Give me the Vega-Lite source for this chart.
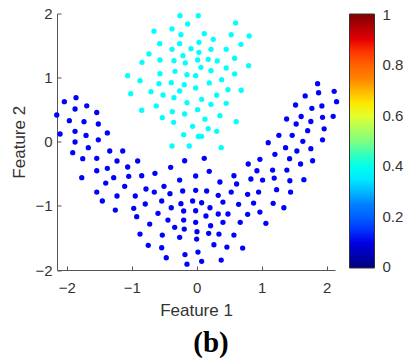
{
  "$schema": "https://vega.github.io/schema/vega-lite/v6.json",
  "autosize": "none",
  "width": 278,
  "height": 256.5,
  "padding": {"left": 57, "top": 13.5, "right": 73, "bottom": 92},
  "background": "white",
  "title": {"text": "(b)", "orient": "bottom", "anchor": "middle", "frame": "group", "dx": 15, "offset": 11, "font": "Liberation Serif", "fontSize": 29, "fontWeight": "bold", "color": "#000000"},
  "config": {"view": {"stroke": null}},
  "datasets": {
    "pts": [
      {"x":-0.257,"y":1.966,"v":0.375},{"x":0.025,"y":1.966,"v":0.375},{"x":-0.138,"y":1.837,"v":0.375},{"x":-0.657,"y":1.723,"v":0.375},
      {"x":-0.380,"y":1.759,"v":0.375},{"x":-0.242,"y":1.670,"v":0.375},{"x":-0.569,"y":1.530,"v":0.375},{"x":-0.262,"y":1.530,"v":0.375},
      {"x":0.035,"y":1.551,"v":0.375},{"x":-0.380,"y":1.442,"v":0.375},{"x":-0.088,"y":1.452,"v":0.375},{"x":-0.734,"y":1.369,"v":0.375},
      {"x":-0.211,"y":1.342,"v":0.375},{"x":0.035,"y":1.395,"v":0.375},{"x":-0.842,"y":1.239,"v":0.375},{"x":-0.565,"y":1.275,"v":0.375},
      {"x":-0.349,"y":1.264,"v":0.375},{"x":-0.175,"y":1.229,"v":0.375},{"x":0.015,"y":1.275,"v":0.375},{"x":-1.062,"y":1.030,"v":0.375},
      {"x":-0.872,"y":0.952,"v":0.375},{"x":-0.565,"y":1.062,"v":0.375},{"x":-0.334,"y":1.099,"v":0.375},{"x":-0.149,"y":1.046,"v":0.375},
      {"x":-0.015,"y":1.030,"v":0.375},{"x":-0.580,"y":0.906,"v":0.375},{"x":-0.391,"y":0.921,"v":0.375},{"x":-0.191,"y":0.890,"v":0.375},
      {"x":-1.015,"y":0.750,"v":0.375},{"x":-0.703,"y":0.781,"v":0.375},{"x":-0.518,"y":0.729,"v":0.375},{"x":-0.262,"y":0.792,"v":0.375},
      {"x":-0.015,"y":0.839,"v":0.375},{"x":-0.349,"y":0.687,"v":0.375},{"x":-0.149,"y":0.609,"v":0.375},{"x":-0.622,"y":0.558,"v":0.375},
      {"x":-0.846,"y":0.491,"v":0.375},{"x":-0.375,"y":0.469,"v":0.375},{"x":-0.185,"y":0.433,"v":0.375},{"x":0.015,"y":0.500,"v":0.375},
      {"x":-0.529,"y":0.375,"v":0.375},{"x":-0.354,"y":0.303,"v":0.375},{"x":-0.062,"y":0.241,"v":0.375},{"x":-0.200,"y":0.110,"v":0.375},
      {"x":0.025,"y":0.082,"v":0.375},{"x":0.600,"y":1.853,"v":0.375},{"x":0.117,"y":1.686,"v":0.375},{"x":0.532,"y":1.670,"v":0.375},
      {"x":0.809,"y":1.650,"v":0.375},{"x":0.255,"y":1.598,"v":0.375},{"x":0.682,"y":1.520,"v":0.375},{"x":0.220,"y":1.442,"v":0.375},
      {"x":0.455,"y":1.442,"v":0.375},{"x":0.585,"y":1.302,"v":0.375},{"x":0.178,"y":1.286,"v":0.375},{"x":0.317,"y":1.260,"v":0.375},
      {"x":0.066,"y":1.161,"v":0.375},{"x":0.220,"y":1.108,"v":0.375},{"x":0.455,"y":1.151,"v":0.375},{"x":0.800,"y":1.186,"v":0.375},
      {"x":0.585,"y":1.057,"v":0.375},{"x":0.385,"y":0.968,"v":0.375},{"x":0.194,"y":0.917,"v":0.375},{"x":0.482,"y":0.812,"v":0.375},
      {"x":0.686,"y":0.803,"v":0.375},{"x":0.308,"y":0.725,"v":0.375},{"x":0.077,"y":0.662,"v":0.375},{"x":0.220,"y":0.584,"v":0.375},
      {"x":0.455,"y":0.600,"v":0.375},{"x":0.358,"y":0.406,"v":0.375},{"x":0.128,"y":0.352,"v":0.375},{"x":0.609,"y":0.313,"v":0.375},
      {"x":0.178,"y":0.204,"v":0.375},{"x":0.308,"y":0.163,"v":0.375},{"x":0.077,"y":0.085,"v":0.375},{"x":-0.380,"y":-0.066,"v":0.375},
      {"x":-0.114,"y":-0.066,"v":0.375},{"x":0.378,"y":-0.093,"v":0.375},
      {"x":-2.037,"y":0.625,"v":0.125},{"x":-1.857,"y":0.687,"v":0.125},{"x":-1.872,"y":0.511,"v":0.125},{"x":-1.692,"y":0.561,"v":0.125},
      {"x":-1.538,"y":0.456,"v":0.125},{"x":-2.154,"y":0.417,"v":0.125},{"x":-1.960,"y":0.328,"v":0.125},{"x":-1.734,"y":0.313,"v":0.125},
      {"x":-1.514,"y":0.277,"v":0.125},{"x":-2.103,"y":0.121,"v":0.125},{"x":-1.872,"y":0.163,"v":0.125},{"x":-1.703,"y":0.098,"v":0.125},
      {"x":-1.375,"y":0.137,"v":0.125},{"x":-1.514,"y":0.030,"v":0.125},{"x":-1.872,"y":-0.004,"v":0.125},{"x":-1.668,"y":-0.093,"v":0.125},
      {"x":-1.908,"y":-0.171,"v":0.125},{"x":-1.338,"y":-0.144,"v":0.125},{"x":-1.138,"y":-0.144,"v":0.125},{"x":-1.754,"y":-0.264,"v":0.125},
      {"x":-1.538,"y":-0.258,"v":0.125},{"x":-1.226,"y":-0.300,"v":0.125},{"x":-0.908,"y":-0.300,"v":0.125},{"x":-1.062,"y":-0.394,"v":0.125},
      {"x":-1.375,"y":-0.414,"v":0.125},{"x":-1.538,"y":-0.452,"v":0.125},{"x":-0.400,"y":-0.399,"v":0.125},{"x":-0.185,"y":-0.296,"v":0.125},
      {"x":-1.769,"y":-0.561,"v":0.125},{"x":-1.277,"y":-0.561,"v":0.125},{"x":-1.046,"y":-0.539,"v":0.125},{"x":-0.846,"y":-0.530,"v":0.125},
      {"x":-0.642,"y":-0.492,"v":0.125},{"x":-0.262,"y":-0.597,"v":0.125},{"x":-0.015,"y":-0.534,"v":0.125},{"x":-1.400,"y":-0.644,"v":0.125},
      {"x":-1.108,"y":-0.695,"v":0.125},{"x":-0.780,"y":-0.737,"v":0.125},{"x":-0.503,"y":-0.695,"v":0.125},{"x":-0.652,"y":-0.784,"v":0.125},
      {"x":-0.411,"y":-0.810,"v":0.125},{"x":-0.215,"y":-0.768,"v":0.125},{"x":-0.015,"y":-0.757,"v":0.125},{"x":-1.538,"y":-0.784,"v":0.125},
      {"x":-1.226,"y":-0.846,"v":0.125},{"x":-0.945,"y":-0.846,"v":0.125},{"x":-1.452,"y":-0.924,"v":0.125},{"x":-0.791,"y":-0.971,"v":0.125},
      {"x":-0.538,"y":-0.924,"v":0.125},{"x":-0.242,"y":-0.966,"v":0.125},{"x":-0.062,"y":-0.924,"v":0.125},{"x":-1.252,"y":-1.065,"v":0.125},
      {"x":-0.969,"y":-1.038,"v":0.125},{"x":-0.391,"y":-1.029,"v":0.125},{"x":-0.200,"y":-1.080,"v":0.125},{"x":-0.015,"y":-1.076,"v":0.125},
      {"x":-0.923,"y":-1.169,"v":0.125},{"x":-0.595,"y":-1.116,"v":0.125},{"x":-0.442,"y":-1.221,"v":0.125},{"x":-0.200,"y":-1.221,"v":0.125},
      {"x":-0.015,"y":-1.257,"v":0.125},{"x":-0.723,"y":-1.283,"v":0.125},{"x":-0.338,"y":-1.335,"v":0.125},{"x":-0.191,"y":-1.361,"v":0.125},
      {"x":0.005,"y":-1.403,"v":0.125},{"x":-0.872,"y":-1.439,"v":0.125},{"x":-0.529,"y":-1.455,"v":0.125},{"x":-0.262,"y":-1.491,"v":0.125},
      {"x":0.000,"y":-1.517,"v":0.125},{"x":-0.745,"y":-1.615,"v":0.125},{"x":-0.538,"y":-1.653,"v":0.125},{"x":0.020,"y":-1.720,"v":0.125},
      {"x":-0.468,"y":-1.809,"v":0.125},{"x":-0.180,"y":-1.759,"v":0.125},{"x":-0.149,"y":-1.910,"v":0.125},
      {"x":1.862,"y":0.906,"v":0.125},{"x":1.877,"y":0.764,"v":0.125},{"x":2.117,"y":0.787,"v":0.125},{"x":1.671,"y":0.714,"v":0.125},
      {"x":2.154,"y":0.625,"v":0.125},{"x":1.523,"y":0.573,"v":0.125},{"x":1.774,"y":0.522,"v":0.125},{"x":1.928,"y":0.558,"v":0.125},
      {"x":1.385,"y":0.355,"v":0.125},{"x":1.609,"y":0.394,"v":0.125},{"x":1.758,"y":0.316,"v":0.125},{"x":1.938,"y":0.381,"v":0.125},
      {"x":2.102,"y":0.397,"v":0.125},{"x":1.532,"y":0.277,"v":0.125},{"x":1.709,"y":0.172,"v":0.125},{"x":1.963,"y":0.202,"v":0.125},
      {"x":1.266,"y":0.101,"v":0.125},{"x":1.471,"y":0.101,"v":0.125},{"x":1.635,"y":0.007,"v":0.125},{"x":1.938,"y":0.030,"v":0.125},
      {"x":1.102,"y":-0.015,"v":0.125},{"x":1.369,"y":-0.093,"v":0.125},{"x":1.543,"y":-0.144,"v":0.125},{"x":1.758,"y":-0.108,"v":0.125},
      {"x":1.205,"y":-0.196,"v":0.125},{"x":1.431,"y":-0.264,"v":0.125},{"x":1.600,"y":-0.347,"v":0.125},{"x":1.785,"y":-0.296,"v":0.125},
      {"x":0.974,"y":-0.274,"v":0.125},{"x":0.794,"y":-0.347,"v":0.125},{"x":0.928,"y":-0.452,"v":0.125},{"x":1.169,"y":-0.441,"v":0.125},
      {"x":1.389,"y":-0.441,"v":0.125},{"x":0.117,"y":-0.258,"v":0.125},{"x":0.194,"y":-0.461,"v":0.125},{"x":0.358,"y":-0.628,"v":0.125},
      {"x":0.574,"y":-0.530,"v":0.125},{"x":0.615,"y":-0.659,"v":0.125},{"x":0.835,"y":-0.581,"v":0.125},{"x":1.015,"y":-0.597,"v":0.125},
      {"x":1.194,"y":-0.566,"v":0.125},{"x":1.435,"y":-0.608,"v":0.125},{"x":1.651,"y":-0.592,"v":0.125},{"x":0.154,"y":-0.768,"v":0.125},
      {"x":0.532,"y":-0.784,"v":0.125},{"x":1.231,"y":-0.748,"v":0.125},{"x":1.446,"y":-0.784,"v":0.125},{"x":0.332,"y":-0.835,"v":0.125},
      {"x":0.785,"y":-0.820,"v":0.125},{"x":0.954,"y":-0.784,"v":0.125},{"x":0.077,"y":-0.951,"v":0.125},{"x":0.405,"y":-0.940,"v":0.125},
      {"x":0.646,"y":-0.976,"v":0.125},{"x":0.877,"y":-0.956,"v":0.125},{"x":1.178,"y":-0.960,"v":0.125},{"x":1.343,"y":-1.029,"v":0.125},
      {"x":0.205,"y":-1.029,"v":0.125},{"x":0.143,"y":-1.158,"v":0.125},{"x":0.332,"y":-1.127,"v":0.125},{"x":0.482,"y":-1.127,"v":0.125},
      {"x":0.785,"y":-1.132,"v":0.125},{"x":0.974,"y":-1.096,"v":0.125},{"x":0.405,"y":-1.257,"v":0.125},{"x":0.671,"y":-1.257,"v":0.125},
      {"x":1.066,"y":-1.272,"v":0.125},{"x":0.215,"y":-1.310,"v":0.125},{"x":0.185,"y":-1.428,"v":0.125},{"x":0.343,"y":-1.439,"v":0.125},
      {"x":0.574,"y":-1.455,"v":0.125},{"x":0.266,"y":-1.606,"v":0.125},{"x":0.466,"y":-1.642,"v":0.125},{"x":0.708,"y":-1.658,"v":0.125},
      {"x":0.077,"y":-1.865,"v":0.125},{"x":0.378,"y":-1.845,"v":0.125}
    ]
  },
  "data": {"name": "pts"},
  "mark": {"type": "circle", "size": 28, "opacity": 1, "clip": false},
  "encoding": {
    "x": {"field": "x", "type": "quantitative",
      "scale": {"domain": [-2.15, 2.13], "nice": false, "zero": false},
      "axis": {"title": "Feature 1", "values": [-2, -1, 0, 1, 2], "grid": false, "tickSize": -4, "labelPadding": 14, "labelFontSize": 15, "labelFont": "Liberation Sans", "labelColor": "#333333", "titleFont": "Liberation Sans", "titleFontSize": 17, "titleFontWeight": "normal", "titleColor": "#333333", "titlePadding": 7, "domainColor": "#555555", "tickColor": "#555555", "labelFlush": false}},
    "y": {"field": "y", "type": "quantitative",
      "scale": {"domain": [-2, 2], "nice": false, "zero": false},
      "axis": {"title": "Feature 2", "values": [-2, -1, 0, 1, 2], "grid": false, "tickSize": -4, "labelPadding": 9, "labelFontSize": 15, "labelFont": "Liberation Sans", "labelColor": "#333333", "titleFont": "Liberation Sans", "titleFontSize": 17, "titleFontWeight": "normal", "titleColor": "#333333", "titlePadding": 6, "domainColor": "#555555", "tickColor": "#555555", "labelFlush": false}},
    "color": {"field": "v", "type": "quantitative",
      "scale": {"type": "linear", "domain": [0, 0.125, 0.25, 0.375, 0.5, 0.625, 0.75, 0.875, 1],
        "range": ["#000080", "#0000ff", "#0080ff", "#00ffff", "#80ff80", "#ffff00", "#ff8000", "#ff0000", "#800000"]},
      "legend": {"title": null, "orient": "none", "legendX": 292.5, "legendY": 0.5, "direction": "vertical", "gradientLength": 254, "gradientThickness": 25, "gradientStrokeColor": "#333333", "gradientStrokeWidth": 1, "values": [0.002, 0.2, 0.4, 0.6, 0.8, 0.998], "labelExpr": "'' + round(datum.value * 10) / 10", "labelFontSize": 15, "labelFont": "Liberation Sans", "labelColor": "#333333", "labelOffset": 8, "labelOverlap": false}}
  }
}
